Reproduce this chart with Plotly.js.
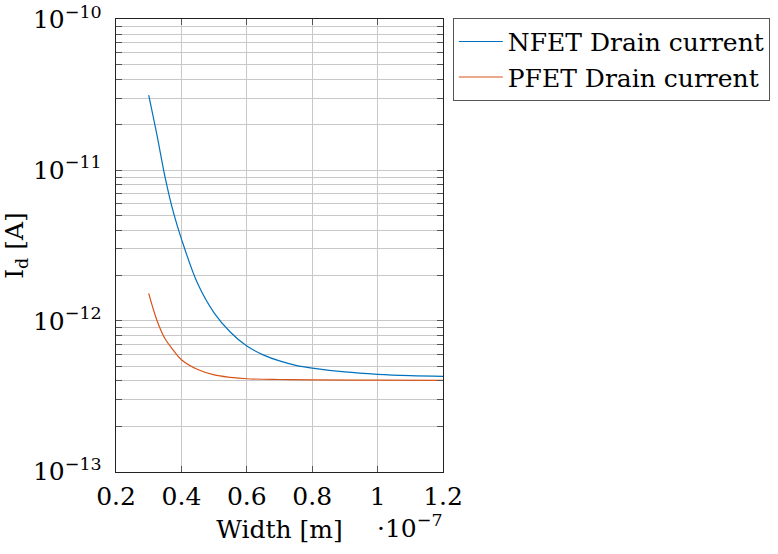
<!DOCTYPE html>
<html>
<head>
<meta charset="utf-8">
<script src="https://cdn.plot.ly/plotly-3.0.1.min.js"></script>
<style>html,body{margin:0;padding:0;background:#fff;}#chart{width:778px;height:554px;}</style>
</head>
<body>
<div id="chart"></div>
<script>
// Width in units of 1e-7 m
var nfetWidth = [0.30, 0.325, 0.35, 0.375, 0.40, 0.45, 0.50, 0.55, 0.60, 0.65, 0.70, 0.75, 0.80, 0.90, 1.00, 1.10, 1.20];
var nfetCurrent = [3.15e-11, 1.72e-11, 9.0e-12, 5.3e-12, 3.5e-12, 1.76e-12, 1.13e-12, 8.4e-13, 6.8e-13, 5.95e-13, 5.42e-13, 5.07e-13, 4.86e-13, 4.58e-13, 4.42e-13, 4.33e-13, 4.28e-13];
var pfetWidth = [0.30, 0.325, 0.35, 0.375, 0.40, 0.45, 0.50, 0.55, 0.60, 0.70, 0.80, 1.00, 1.20];
var pfetCurrent = [1.52e-12, 1.01e-12, 7.6e-13, 6.4e-13, 5.52e-13, 4.75e-13, 4.38e-13, 4.22e-13, 4.13e-13, 4.08e-13, 4.06e-13, 4.04e-13, 4.03e-13];
var xTickVals = [0.2, 0.4, 0.6, 0.8, 1.0, 1.2];
var xTickText = ["0.2", "0.4", "0.6", "0.8", "1", "1.2"];
var decades = [-13, -12, -11, -10];
var seriesNames = ["NFET Drain current", "PFET Drain current"];

var yTickVals = [], yTickText = [];
decades.forEach(function(d, i) {
  yTickVals.push(Math.pow(10, d));
  yTickText.push("10<sup>\u2212" + (-d) + "</sup>");
  if (i < decades.length - 1) {
    for (var m = 2; m <= 9; m++) {
      yTickVals.push(m * Math.pow(10, d));
      yTickText.push("");
    }
  }
});

var font = "DejaVu Serif";
var fs = 25;
var traces = [
  {x: nfetWidth, y: nfetCurrent, name: seriesNames[0], type: "scatter", mode: "lines",
   line: {color: "rgb(0,114,189)", width: 1.2, shape: "spline"}},
  {x: pfetWidth, y: pfetCurrent, name: seriesNames[1], type: "scatter", mode: "lines",
   line: {color: "rgb(217,83,25)", width: 1.2, shape: "spline"}}
];

var layout = {
  width: 778, height: 554,
  margin: {l: 116, r: 335, t: 19, b: 82},
  paper_bgcolor: "#fff", plot_bgcolor: "#fff",
  font: {family: font, size: fs, color: "#000"},
  showlegend: true,
  legend: {xref: "container", yref: "container", x: 0.582, y: 0.968, xanchor: "left", yanchor: "top",
           bordercolor: "#555", borderwidth: 1, bgcolor: "#fff",
           font: {family: font, size: fs, color: "#000"}, itemwidth: 44, tracegroupgap: 0},
  xaxis: {
    range: [0.2, 1.2], tickvals: xTickVals, ticktext: xTickText,
    ticks: "inside", ticklen: 6, tickcolor: "#555",
    showgrid: true, gridcolor: "#c8c8c8", gridwidth: 1,
    showline: true, linecolor: "#222", linewidth: 1.3, mirror: "ticks",
    zeroline: false, tickfont: {family: font, size: fs}, ticklabelstandoff: 2,
    title: {text: "Width [m]", font: {family: font, size: fs}, standoff: 10}
  },
  yaxis: {
    type: "log", range: [-13.003, -9.997], tickvals: yTickVals, ticktext: yTickText,
    ticks: "inside", ticklen: 6, tickcolor: "#555", ticklabeloverflow: "allow",
    showgrid: true, gridcolor: "#c8c8c8", gridwidth: 1,
    showline: true, linecolor: "#222", linewidth: 1.3, mirror: "ticks",
    zeroline: false, tickfont: {family: font, size: fs}, ticklabelstandoff: 8,
    title: {text: "I<sub>d</sub> [A]", font: {family: font, size: fs}, standoff: 3}
  },
  annotations: [{
    xref: "paper", yref: "paper", x: 1.005, y: -0.121, xanchor: "right", yanchor: "middle",
    text: "\u00b710<sup>\u22127</sup>", showarrow: false, font: {family: font, size: fs}
  }]
};

Plotly.newPlot("chart", traces, layout, {displayModeBar: false, staticPlot: true});
</script>
</body>
</html>
